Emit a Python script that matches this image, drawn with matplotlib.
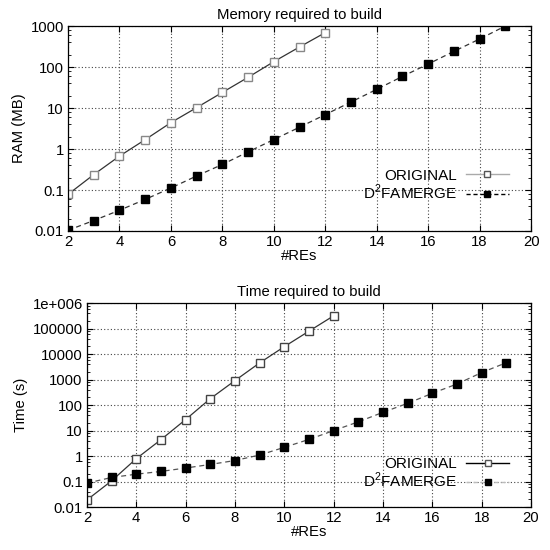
import matplotlib
matplotlib.use("Agg")
import matplotlib.pyplot as plt
from matplotlib.lines import Line2D
from matplotlib.ticker import LogLocator, NullFormatter, FixedLocator
import numpy as np

plt.rcParams['font.family'] = ['Liberation Sans', 'DejaVu Sans']
plt.rcParams['font.size'] = 10.7
plt.rcParams['mathtext.fontset'] = 'custom'
plt.rcParams['mathtext.rm'] = 'Liberation Sans'

# memory (MB)
n_orig = [2, 3, 4, 5, 6, 7, 8, 9, 10, 11, 12]
ram_orig = [0.078, 0.237, 0.67, 1.69, 4.4, 10.2, 24, 56, 135, 308, 690]
n_d2 = [2, 3, 4, 5, 6, 7, 8, 9, 10, 11, 12, 13, 14, 15, 16, 17, 18, 19]
ram_d2 = [0.0104, 0.018, 0.032, 0.059, 0.112, 0.22, 0.42, 0.85, 1.7, 3.4,
          6.9, 14, 28.5, 59, 118, 241, 482, 1000]

# time (s)
time_orig = [0.019, 0.107, 0.79, 4.4, 27, 178, 910, 4500, 19500, 79000, 316000]
time_d2 = [0.087, 0.145, 0.195, 0.25, 0.34, 0.47, 0.67, 1.1, 2.2, 4.5,
           10, 22, 52, 117, 290, 670, 1880, 4600]

ram_ticks = [0.01, 0.1, 1, 10, 100, 1000]
ram_labels = ['0.01', '0.1', '1', '10', '100', '1000']
time_ticks = [0.01, 0.1, 1, 10, 100, 1000, 1e4, 1e5, 1e6]
time_labels = ['0.01', '0.1', '1', '10', '100', '1000', '10000', '100000', '1e+006']

fig = plt.figure(figsize=(5.5, 5.5), dpi=100)
ax1 = fig.add_axes([0.1236, 0.58, 0.842, 0.3727])
ax2 = fig.add_axes([0.158, 0.078, 0.8075, 0.371])


def style(ax, yticks, ylabels, ylab, title):
    ax.set_yscale('log')
    ax.set_xlim(2, 20)
    ax.set_ylim(yticks[0], yticks[-1])
    ax.set_xticks(range(2, 21, 2))
    ax.yaxis.set_major_locator(FixedLocator(yticks))
    ax.set_yticklabels(ylabels)
    ax.yaxis.set_minor_locator(LogLocator(base=10, subs=[2, 4, 6, 8], numticks=20))
    ax.yaxis.set_minor_formatter(NullFormatter())
    ax.tick_params(which='both', direction='in', top=True, right=True)
    ax.tick_params(which='major', length=4, width=0.8, pad=3)
    ax.tick_params(which='minor', length=2, width=0.6)
    ax.grid(True, which='major', color='#444444', linestyle=(0, (1, 2)), linewidth=0.8)
    for s in ax.spines.values():
        s.set_linewidth(0.9)
    ax.set_xlabel('#REs', labelpad=0)
    ax.set_ylabel(ylab, labelpad=3)
    ax.set_title(title, fontsize=10.7, pad=5)


style(ax1, ram_ticks, ram_labels, 'RAM (MB)', 'Memory required to build')
ax1.plot(n_orig, ram_orig, color='#333333', lw=0.9, marker='s', ms=5.5,
         mfc='white', mec='#888888', mew=1)
ax1.plot(n_d2, ram_d2, color='#333333', lw=0.9, ls=(0, (4, 3)), marker='s', ms=5.5,
         mfc='black', mec='black')
h1 = [Line2D([], [], color='#aaaaaa', lw=1, marker='s', ms=4.5, mfc='white', mec='#555555'),
      Line2D([], [], color='black', lw=1, ls=(0, (3, 2)), marker='s', ms=5, mfc='black', mec='black')]
ax1.legend(h1, ['ORIGINAL', 'D$^2$FAMERGE'], loc='lower right', bbox_to_anchor=(0.975, 0.09),
           frameon=False, markerfirst=False, handlelength=2.8, handletextpad=0.6,
           labelspacing=0.0, fontsize=11, borderpad=0.2)

style(ax2, time_ticks, time_labels, 'Time (s)', 'Time required to build')
ax2.plot(n_orig, time_orig, color='#333333', lw=0.9, marker='s', ms=5.5,
         mfc='white', mec='#444444', mew=1)
ax2.plot(n_d2, time_d2, color='#555555', lw=0.9, ls=(0, (4, 3)), marker='s', ms=5.5,
         mfc='black', mec='black')
h2 = [Line2D([], [], color='black', lw=1, marker='s', ms=4.5, mfc='white', mec='#555555'),
      Line2D([], [], color='#bbbbbb', lw=1, ls=(0, (3, 2)), marker='s', ms=5, mfc='black', mec='black')]
ax2.legend(h2, ['ORIGINAL', 'D$^2$FAMERGE'], loc='lower right', bbox_to_anchor=(0.975, 0.03),
           frameon=False, markerfirst=False, handlelength=2.8, handletextpad=0.6,
           labelspacing=0.0, fontsize=11, borderpad=0.2)

fig.savefig('out.png', dpi=100)
